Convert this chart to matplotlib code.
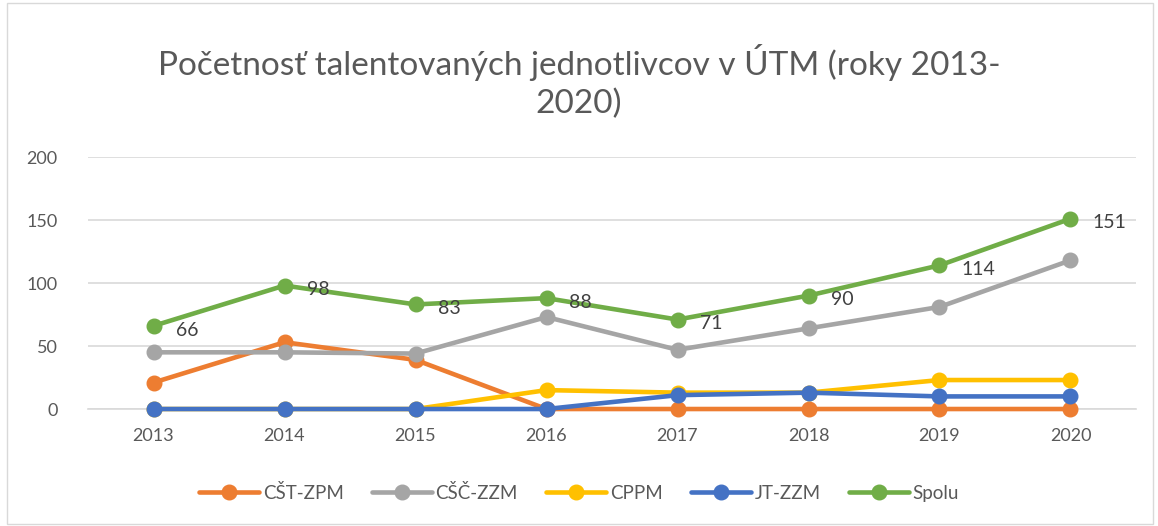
import matplotlib.pyplot as plt
from matplotlib.patches import Rectangle

# ============================================================
# DATA
# ============================================================

YEARS = ["2013", "2014", "2015", "2016", "2017", "2018", "2019", "2020"]

CST_ZPM = [21, 53, 39, 0, 0, 0, 0, 0]
CSC_ZZM = [45, 45, 44, 73, 47, 64, 81, 118]
CPPM = [0, 0, 0, 15, 13, 13, 23, 23]
JT_ZZM = [0, 0, 0, 0, 11, 13, 10, 10]
SPOLU = [66, 98, 83, 88, 71, 90, 114, 151]

SERIES = [
    ("CŠT-ZPM", CST_ZPM, "#ED7D31"),
    ("CŠČ-ZZM", CSC_ZZM, "#A5A5A5"),
    ("CPPM", CPPM, "#FFC000"),
    ("JT-ZZM", JT_ZZM, "#4472C4"),
    ("Spolu", SPOLU, "#70AD47"),
]

TITLE = "Početnosť talentovaných jednotlivcov v ÚTM (roky 2013-\n2020)"

# ============================================================
# PLOT
# ============================================================

plt.rcParams['font.family'] = ['Lato', 'DejaVu Sans']

fig = plt.figure(figsize=(11.58, 5.26), dpi=100)
ax = fig.add_axes([0.076, 0.2224, 0.905, 0.4791])

x = list(range(len(YEARS)))

for label, values, color in SERIES:
    ax.plot(x, values, color=color, linewidth=3.3, marker='o',
            markersize=10.5, label=label, solid_capstyle='round',
            clip_on=False, zorder=3)

for xi, val in zip(x, SPOLU):
    ax.annotate(str(val), (xi, val), xytext=(16, -3), textcoords='offset points',
                ha='left', va='center', fontsize=14, color='#404040')

ax.set_xlim(-0.5, len(YEARS) - 0.5)
ax.set_ylim(0, 200)
ax.set_yticks([0, 50, 100, 150, 200])
ax.set_xticks(x)
ax.set_xticklabels(YEARS)
ax.tick_params(axis='both', length=0, labelsize=13, colors='#595959')
ax.tick_params(axis='x', pad=14)
ax.tick_params(axis='y', pad=22)
for lbl in ax.get_yticklabels():
    lbl.set_horizontalalignment('right')

ax.grid(True, axis='y', color='#D9D9D9', linewidth=1.2)
ax.set_axisbelow(True)
for side in ['top', 'right', 'left']:
    ax.spines[side].set_visible(False)
ax.spines['bottom'].set_color('#D9D9D9')
ax.spines['bottom'].set_linewidth(1.2)
ax.spines['bottom'].set_zorder(1)

fig.text(0.5, 0.845, TITLE, ha='center', va='center', fontsize=24,
         color='#595959', linespacing=1.3)

fig.legend(loc='center', bbox_to_anchor=(0.5, 0.063), ncol=5, frameon=False,
           fontsize=13.5, handlelength=3.2, columnspacing=1.5, handletextpad=0.2,
           labelcolor='#595959')

fig.patches.append(Rectangle((0.006, 0.004), 0.99, 0.99, transform=fig.transFigure,
                             fill=False, edgecolor='#D9D9D9', linewidth=1))

fig.savefig("out.png", dpi=100)
